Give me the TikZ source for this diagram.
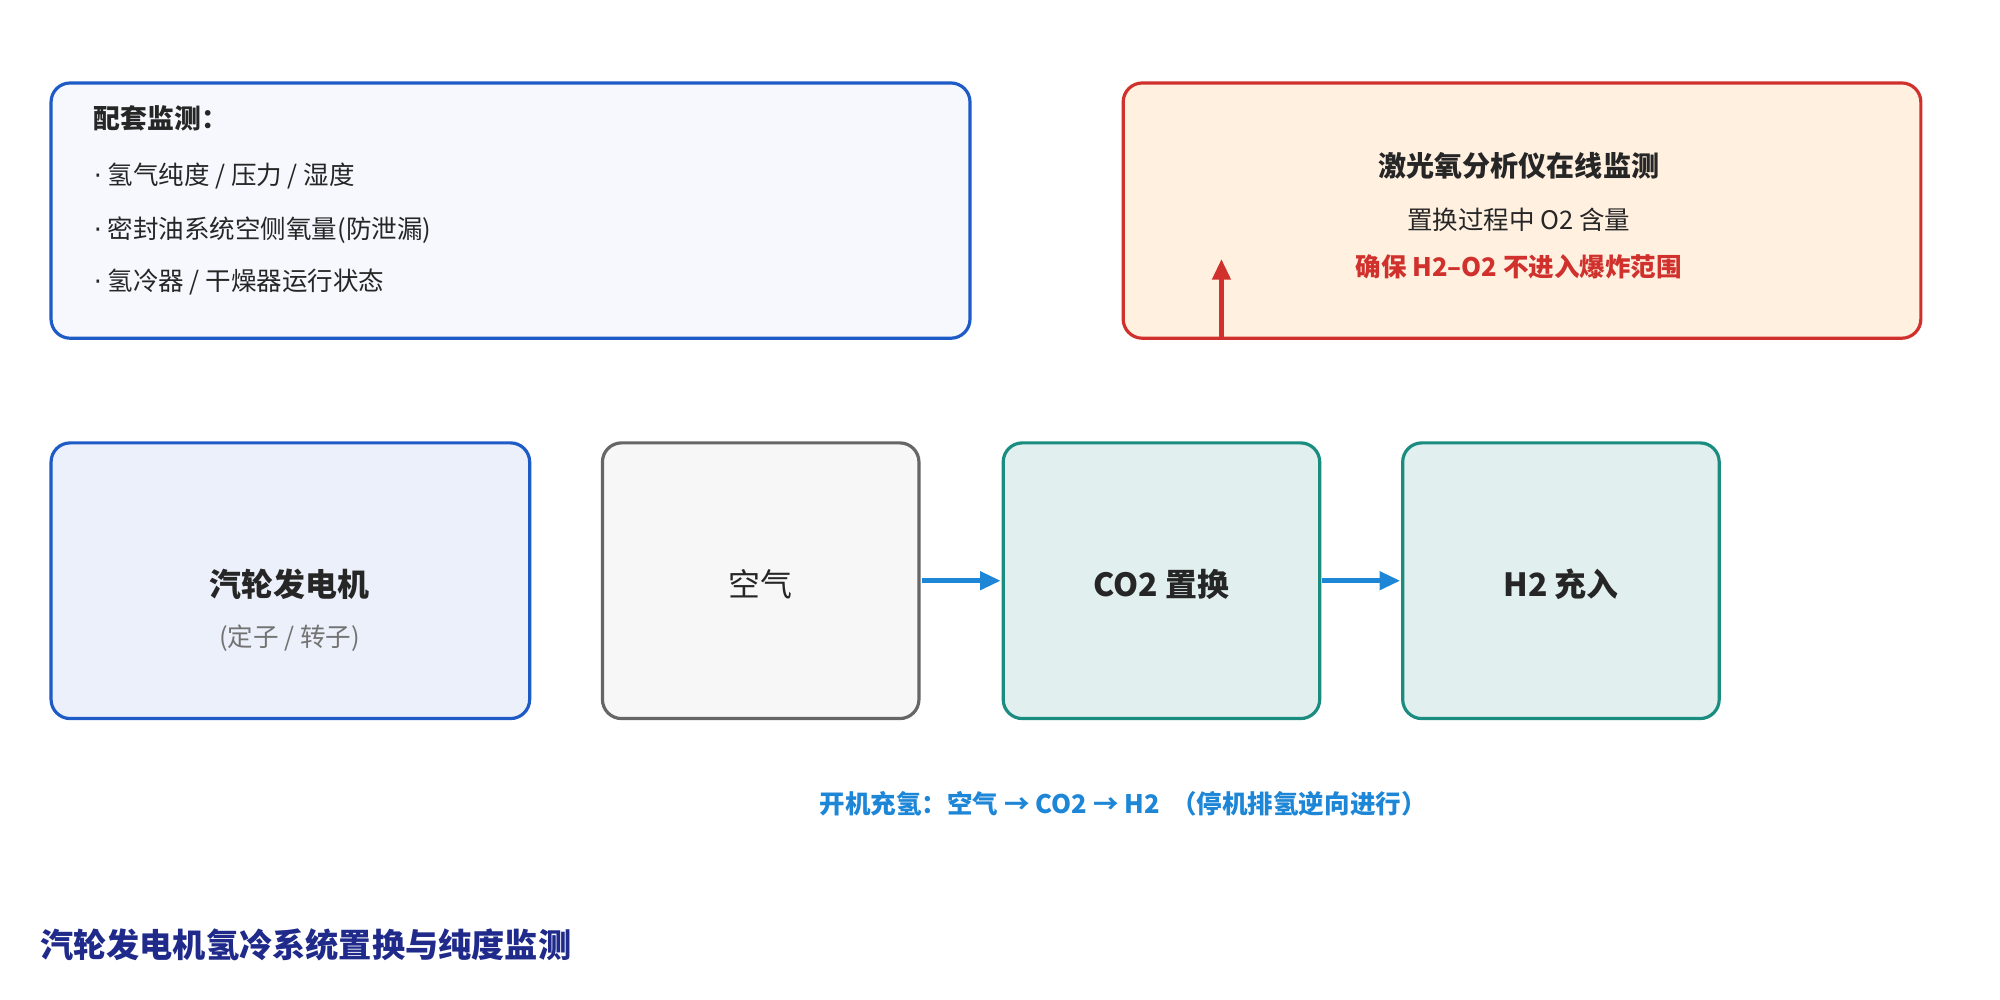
\documentclass[tikz,border=0pt]{standalone}
\usepackage{fontspec}
\setmainfont{Noto Sans CJK SC}
\newfontfamily\dotfont{DejaVu Sans}
\usetikzlibrary{positioning,arrows.meta}
\definecolor{bblue}{HTML}{1E5BC6}
\definecolor{rred}{HTML}{D0312D}
\definecolor{tteal}{HTML}{1A8C80}
\definecolor{aarrow}{HTML}{1E86D6}
\definecolor{nnavy}{HTML}{1F2A8A}
\newcommand{\bdot}{{\dotfont ·}}
\tikzset{
  box/.style={draw, line width=2.5pt, rounded corners=15pt},
  txt/.style={font=\fontsize{20}{24}\selectfont, text=black!85},
  flow/.style={-{Triangle[length=16pt,width=14pt]}, line width=3.5pt, aarrow}
}
\begin{document}
\begin{tikzpicture}[x=1pt,y=-1pt]
\useasboundingbox (0,0) rectangle (1567,783.5);
% top boxes
\draw[box, bblue, fill=bblue!4] (40,65) rectangle (760,265);
\node[txt, anchor=west, font=\fontsize{21}{24}\bfseries] (mtitle) at (70,93) {配套监测：};
\node[txt, anchor=west] (m1) at (70,138) {\bdot{} 氢气纯度 / 压力 / 湿度};
\node[txt, anchor=west] (m2) at (70,180) {\bdot{} 密封油系统空侧氧量(防泄漏)};
\node[txt, anchor=west] (m3) at (70,221) {\bdot{} 氢冷器 / 干燥器运行状态};

\draw[box, rred, fill=orange!12] (880,65) rectangle (1505,265);
\node[txt, font=\fontsize{22}{24}\bfseries] (otitle) at (1190,130) {激光氧分析仪在线监测};
\node[txt] (o1) at (1190,172) {置换过程中 O2 含量};
\node[txt, text=rred, font=\fontsize{20}{24}\bfseries] (o2) at (1190,209) {确保 H2–O2 不进入爆炸范围};
\coordinate (rbot) at (957,265);
\coordinate (rtop) at (957,203);
\draw[-{Triangle[length=16pt,width=14pt]}, line width=3.5pt, rred] (rbot) -- (rtop);

% flow boxes
\draw[box, bblue, fill=bblue!9] (40,347) rectangle (415,563);
\node[txt, font=\fontsize{25}{28}\bfseries] (gen) at (227,458) {汽轮发电机};
\node[txt, text=black!55] (gensub) at (227,500) {(定子 / 转子)};

\draw[box, black!60, fill=black!3] (472,347) rectangle (720,563);
\node[txt, font=\fontsize{25}{28}\selectfont] (air) at (596,458) {空气};
\draw[box, tteal, fill=tteal!13] (786,347) rectangle (1034,563);
\node[txt, font=\fontsize{25}{28}\bfseries] (co2) at (910,458) {CO2 置换};
\draw[box, tteal, fill=tteal!13] (1099,347) rectangle (1347,563);
\node[txt, font=\fontsize{25}{28}\bfseries] (h2) at (1223,458) {H2 充入};

\coordinate (a1) at (722,455);
\coordinate (a2) at (784,455);
\coordinate (a3) at (1036,455);
\coordinate (a4) at (1097,455);
\draw[flow] (a1) -- (a2);
\draw[flow] (a3) -- (a4);

\node[font=\fontsize{20}{24}\bfseries, text=aarrow] (cap) at (880,630) {开机充氢：空气 → CO2 → H2 \ （停机排氢逆向进行）};
\node[anchor=west, font=\fontsize{26}{30}\bfseries, text=nnavy] (title) at (28,740) {汽轮发电机氢冷系统置换与纯度监测};
\end{tikzpicture}
\end{document}
